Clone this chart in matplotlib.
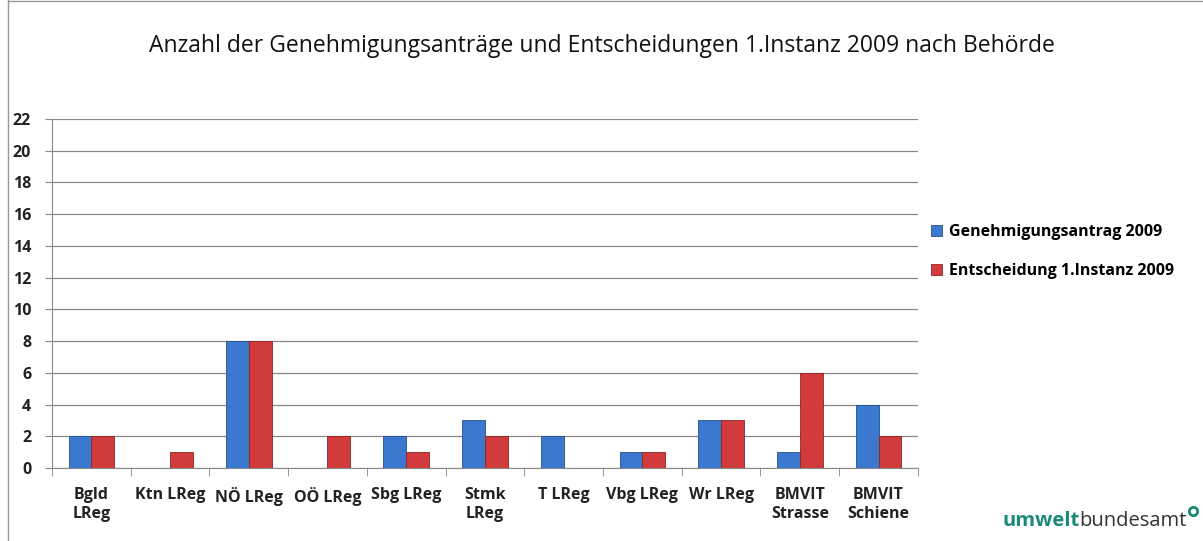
import matplotlib
matplotlib.use("Agg")
import matplotlib.pyplot as plt
import numpy as np

categories = ["Bgld\nLReg", "Ktn LReg", "NÖ LReg", "OÖ LReg", "Sbg LReg", "Stmk\nLReg",
              "T LReg", "Vbg LReg", "Wr LReg", "BMVIT\nStrasse", "BMVIT\nSchiene"]
antrag = [2, 0, 8, 0, 2, 3, 2, 1, 3, 1, 4]
entscheidung = [2, 1, 8, 2, 1, 2, 0, 1, 3, 6, 2]
series_names = ["Genehmigungsantrag 2009", "Entscheidung 1.Instanz 2009"]
yticks = list(range(0, 23, 2))

plt.rcParams['font.family'] = ['Open Sans', 'DejaVu Sans']

fig = plt.figure(figsize=(12.03, 5.41), dpi=100)
ax = fig.add_axes([0.0432, 0.135, 0.7198, 0.645])

x = np.arange(len(categories))
w = 0.29
blue = "#3b78d0"
red = "#d23b3b"
b1 = ax.bar(x - w/2, antrag, w, color=blue, edgecolor="#24508f", linewidth=0.6, label=series_names[0])
b2 = ax.bar(x + w/2, entscheidung, w, color=red, edgecolor="#8f2424", linewidth=0.6, label=series_names[1])

ax.set_xlim(-0.5, len(categories) - 0.5)
ax.set_ylim(0, 22)
ax.set_yticks(yticks)
ax.set_yticklabels([str(t) for t in yticks], fontsize=11.5, fontweight='bold', color="#222222")
ax.set_xticks(x)
ax.set_xticklabels(categories, fontsize=11.5, fontweight='bold', color="#222222", ha='center')
ax.set_xticks(np.arange(-0.5, len(categories), 1), minor=True)
ax.tick_params(axis='x', which='major', length=0, pad=14)
ax.tick_params(axis='x', which='minor', length=6, color="#888888", direction='out')
ax.tick_params(axis='y', length=5, color="#888888", pad=10)
ax.yaxis.grid(True, color="#888888", linewidth=0.9)
ax.set_axisbelow(True)
for s in ['top', 'right']:
    ax.spines[s].set_visible(False)
ax.spines['left'].set_color("#888888")
ax.spines['bottom'].set_color("#888888")

fig.text(0.5, 0.915, "Anzahl der Genehmigungsanträge und Entscheidungen 1.Instanz 2009 nach Behörde",
         ha='center', va='center', fontsize=16.5, color="#111111")

fig.legend(handles=[b1, b2], labels=series_names, loc='center left',
           bbox_to_anchor=(0.762, 0.535), frameon=False,
           prop={'weight': 'bold', 'size': 11.5}, handlelength=0.7, handleheight=0.7,
           handletextpad=0.4, labelspacing=1.4)

t1 = fig.text(0.833, 0.028, "umwelt", ha='left', va='baseline', fontsize=14.5, fontweight='bold', color="#1a8a78")
ax.annotate("bundesamt", xy=(1, 0), xycoords=t1, xytext=(0, 0), textcoords='offset points',
            ha='left', va='bottom', fontsize=14.5, color="#333333", annotation_clip=False)
fig.add_artist(plt.Line2D([0.9917], [0.055], marker='o', markersize=6, markerfacecolor='white',
                          markeredgecolor="#1a8a78", markeredgewidth=2, transform=fig.transFigure))

# figure frame
fig.add_artist(plt.Line2D([0.0066, 0.0066], [0.0, 1.0], color="#999999", linewidth=1, transform=fig.transFigure))
fig.add_artist(plt.Line2D([0.0066, 1.0], [0.999, 0.999], color="#999999", linewidth=1, transform=fig.transFigure))

fig.savefig("out.png", dpi=100)
